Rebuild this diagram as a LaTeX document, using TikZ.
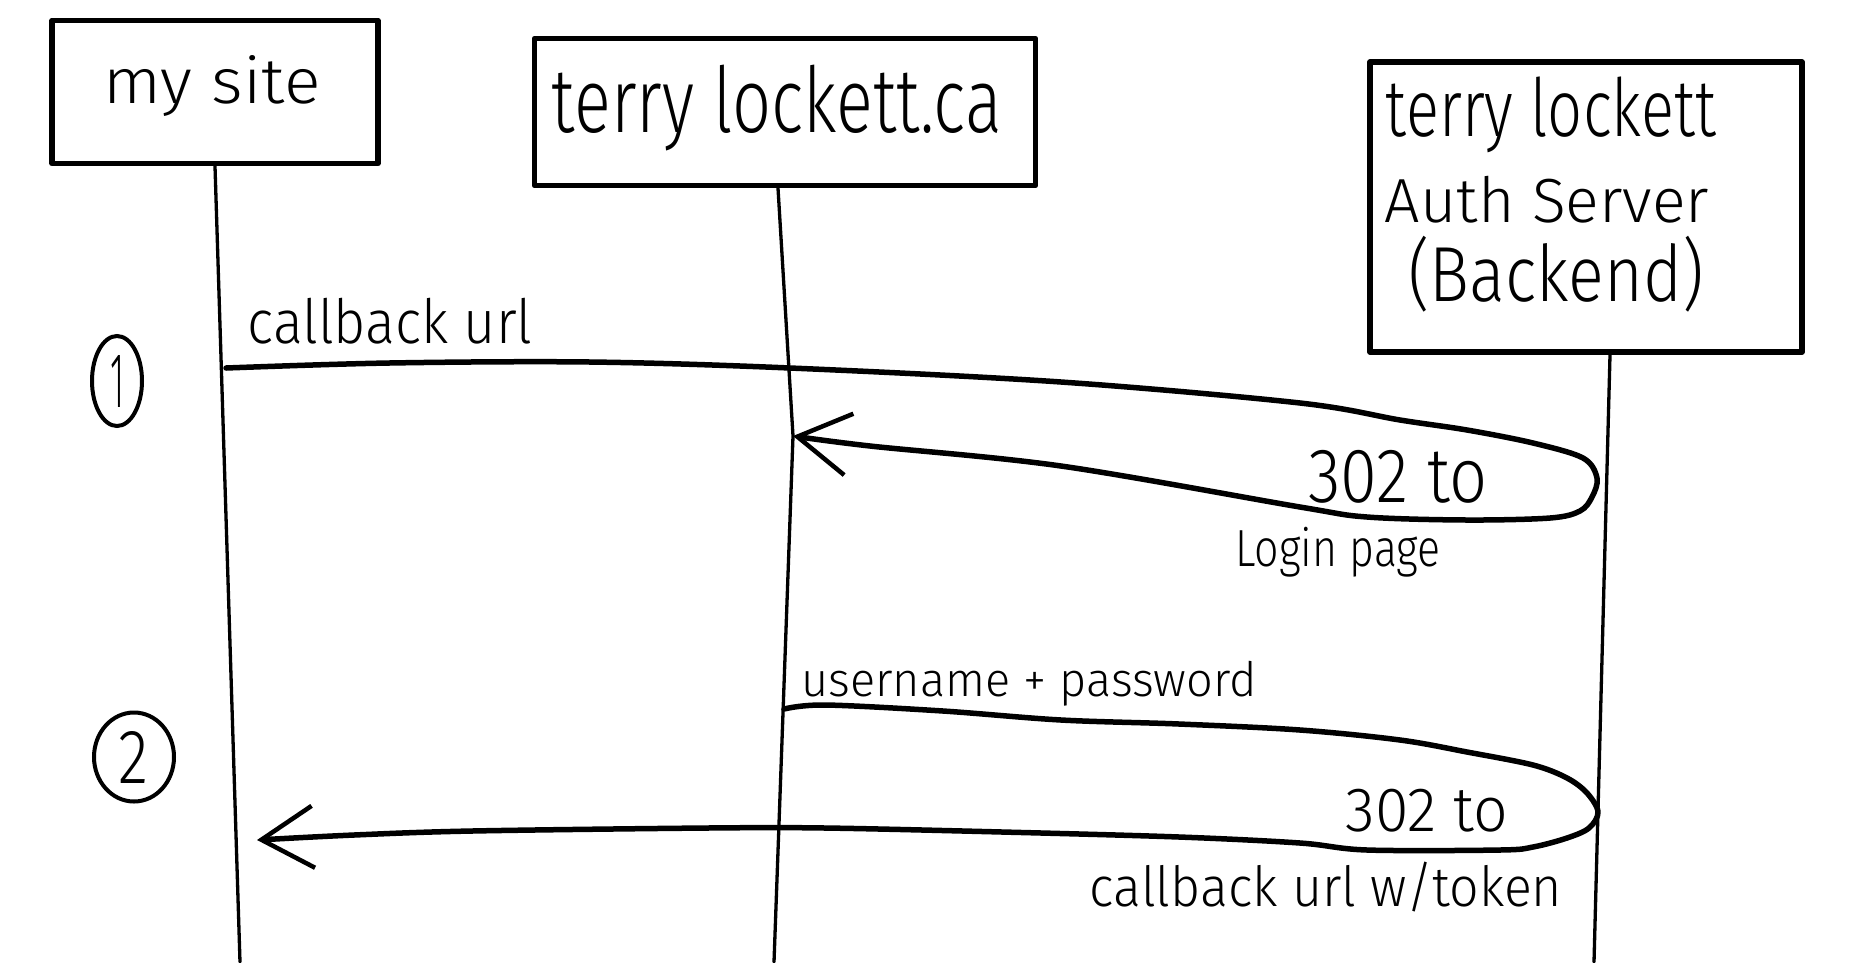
\documentclass[tikz,border=0pt]{standalone}
\usepackage{fontspec}
\usepackage{graphicx}
\newfontfamily\hand{Fira Sans Light}
\usetikzlibrary{arrows.meta,shapes.geometric,calc}
\newcommand{\hw}[3]{\resizebox*{#1pt}{#2pt}{\hand #3}}
\begin{document}
\begin{tikzpicture}[x=1pt,y=-1pt,
  box/.style={draw, line width=5.5pt, line join=round, inner sep=0pt},
  life/.style={line width=3.3pt, line cap=round},
  msg/.style={line width=5.5pt, line cap=round, line join=round},
  tip/.style={-{Straight Barb[length=52pt,width=62pt,line width=4.5pt]}},
  lbl/.style={inner sep=0pt},
  stepnum/.style={ellipse, draw, line width=4pt, inner sep=0pt}]
\fill[white] (0,0) rectangle (1849,962);
\useasboundingbox (0,0) rectangle (1849,962);

% participant boxes
\node[box, minimum width=326pt, minimum height=143pt] (mysite) at (215,92) {};
\node[lbl] (mysitet) at (212,86) {\hw{217}{61}{my site}};
\node[box, minimum width=501pt, minimum height=147pt] (lockett) at (785,112) {};
\node[lbl] (lockettt) at (777,108) {\hw{450}{86}{terry lockett.ca}};
\node[box, minimum width=432pt, minimum height=290pt] (auth) at (1586,207) {};
\node[lbl] (auth1) at (1551,115) {\hw{330}{76}{terry lockett}};
\node[lbl] (auth2) at (1547,200) {\hw{324}{47}{Auth Server}};
\node[lbl] (auth3) at (1556,274) {\hw{295}{76}{(Backend)}};

% lifelines
\coordinate (mysiteEnd) at (240,962);
\coordinate (lockettMid) at (793,436);
\coordinate (lockettEnd) at (774,962);
\coordinate (authTop) at ($(auth.south)+(24,0)$);
\coordinate (authEnd) at (1594,962);
\draw[life] (mysite.south) -- (mysiteEnd);
\draw[life] ($(lockett.south)+(-7,0)$) -- (lockettMid) -- (lockettEnd);
\draw[life] (authTop) -- (authEnd);

% step markers
\node[stepnum, minimum width=50pt, minimum height=90pt] (step1) at (117,381) {\hw{14}{52}{1}};
\node[stepnum, minimum width=80pt, minimum height=89pt] (step2) at (134,757) {\hw{30}{52}{2}};

% message 1
\coordinate (m1s) at (226,368);
\coordinate (m1turn) at (1597,478);
\coordinate (m1e) at (lockettMid);
\draw[msg, tip] plot[smooth, tension=0.55] coordinates {(m1s) (389,363) (590,362) (790,368) (1061,382) (1300,403) (1400,420) (1467,430) (1533,443) (1583,458) (m1turn) (1592,497) (1580,511) (1550,518) (1467,520) (1367,517) (1300,507) (1061,466) (870,446) (m1e)};
\node[lbl] (m1a) at (390,321) {\hw{285}{46}{callback url}};
\node[lbl] (m1b) at (1398,477) {\hw{179}{53}{302 to}};
\node[lbl] (m1c) at (1338,552) {\hw{205}{50}{Login page}};

% message 2
\coordinate (m2s) at (784,709);
\coordinate (m2turn) at (1598,812);
\coordinate (m2e) at (257,840);
\draw[msg, tip] plot[smooth, tension=0.55] coordinates {(m2s) (825,705) (943,711) (1061,720) (1179,724) (1300,730) (1400,740) (1467,752) (1533,765) (1567,778) (1587,793) (m2turn) (1589,828) (1567,838) (1533,847) (1500,850) (1367,850) (1300,843) (1179,837) (1002,832) (825,828) (707,828) (472,831) (354,835) (m2e)};
\node[lbl] (m2a) at (1029,684) {\hw{455}{45}{username + password}};
\node[lbl] (m2b) at (1427,811) {\hw{163}{43}{302 to}};
\node[lbl] (m2c) at (1326,887) {\hw{472}{50}{callback url w/token}};
\end{tikzpicture}
\end{document}
